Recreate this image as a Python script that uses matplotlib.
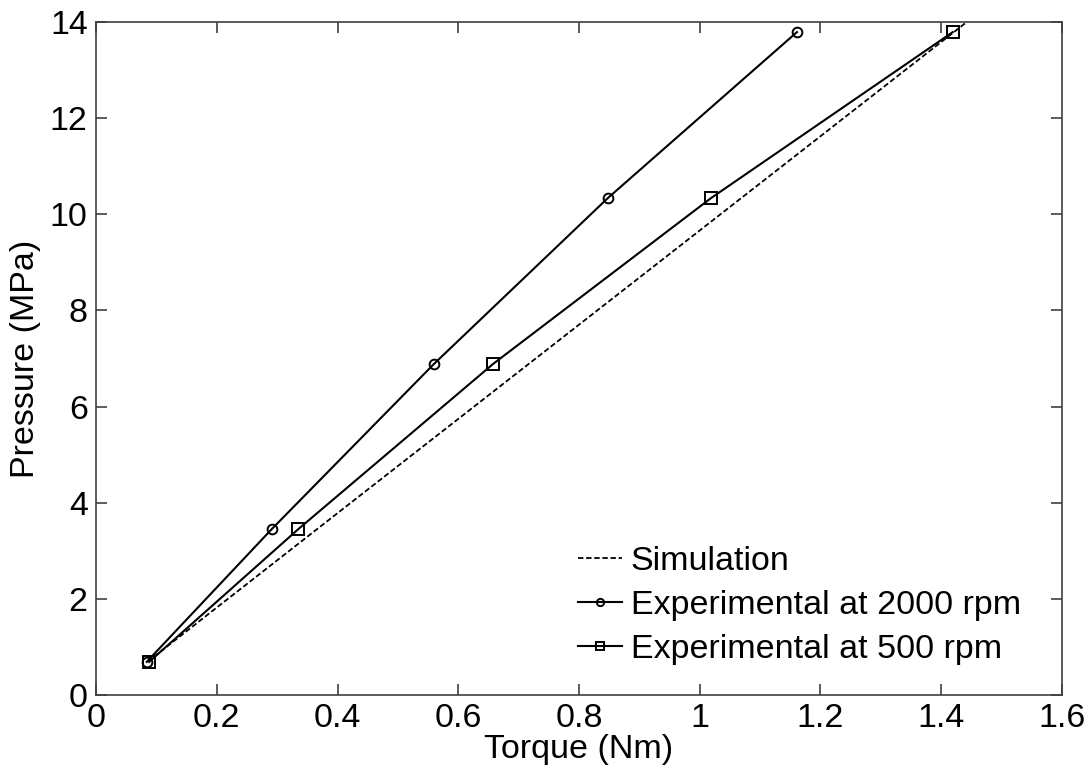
import matplotlib.pyplot as plt

plt.rcParams['font.family'] = ['Liberation Sans', 'DejaVu Sans']

# datos
pressure = [0.69, 3.45, 6.89, 10.34, 13.79]
torque_2000 = [0.084, 0.291, 0.560, 0.848, 1.161]
torque_500 = [0.088, 0.335, 0.658, 1.019, 1.419]
sim_pressure = [0.69, 3.45, 6.89, 10.34, 13.79, 14.5]
sim_torque = [0.085, 0.366, 0.717, 1.069, 1.421, 1.493]

fig = plt.figure(figsize=(10.91, 7.77), dpi=100)
ax = fig.add_axes([0.088, 0.1055, 0.8854, 0.8662])

ax.plot(sim_torque, sim_pressure, '--', color='black', lw=1.3, dashes=(3, 1.5),
        label='Simulation')
ax.plot(torque_2000, pressure, '-o', color='black', lw=1.5, ms=7,
        mfc='none', mew=1.4, label='Experimental at 2000 rpm')
ax.plot(torque_500, pressure, '-s', color='black', lw=1.5, ms=8,
        mfc='none', mew=1.4, label='Experimental at 500 rpm')

ax.set_xlim(0, 1.6)
ax.set_ylim(0, 14)
ax.set_xticks([0, 0.2, 0.4, 0.6, 0.8, 1.0, 1.2, 1.4, 1.6])
ax.set_xticklabels(['0', '0.2', '0.4', '0.6', '0.8', '1', '1.2', '1.4', '1.6'])
ax.set_yticks(range(0, 15, 2))

for s in ax.spines.values():
    s.set_color('#404040')
    s.set_linewidth(1.2)
ax.tick_params(direction='in', length=8, width=1.2, color='#404040',
               top=True, right=True, labelsize=24.5, pad=6)

ax.set_xlabel('Torque (Nm)', fontsize=24.5, labelpad=0)
ax.set_ylabel('Pressure (MPa)', fontsize=24.5, labelpad=6)

ax.legend(loc='lower left', frameon=False, fontsize=24.5, handlelength=1.3,
          handletextpad=0.25, labelspacing=0.38, borderpad=0, borderaxespad=0,
          bbox_to_anchor=(0.499, 0.045), markerscale=0.75)

fig.savefig('out.png', dpi=100)
plt.close()
